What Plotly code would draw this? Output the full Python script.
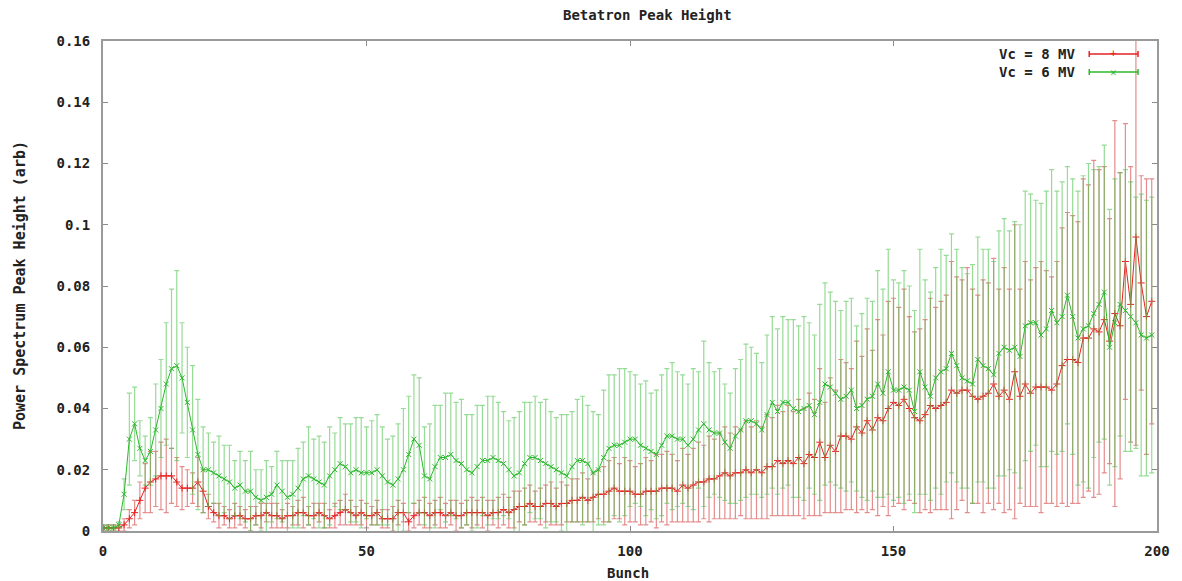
import plotly.graph_objects as go

bunch = list(range(200))

vc8_mean = [
    0.001, 0.001, 0.001, 0.001, 0.002, 0.004, 0.006, 0.010, 0.014, 0.016,
    0.017, 0.018, 0.018, 0.018, 0.016, 0.014, 0.014, 0.014, 0.016, 0.013,
    0.008, 0.006, 0.005, 0.005, 0.004, 0.005, 0.005, 0.004, 0.004, 0.005,
    0.005, 0.006, 0.005, 0.005, 0.004, 0.005, 0.005, 0.006, 0.006, 0.005,
    0.005, 0.006, 0.005, 0.004, 0.005, 0.006, 0.007, 0.006, 0.005, 0.006,
    0.005, 0.005, 0.006, 0.004, 0.004, 0.004, 0.006, 0.006, 0.003, 0.005,
    0.006, 0.006, 0.005, 0.006, 0.006, 0.005, 0.006, 0.005, 0.005, 0.006,
    0.006, 0.006, 0.006, 0.005, 0.006, 0.006, 0.007, 0.006, 0.007, 0.008,
    0.008, 0.009, 0.008, 0.008, 0.009, 0.009, 0.008, 0.009, 0.009, 0.010,
    0.010, 0.011, 0.010, 0.011, 0.012, 0.012, 0.013, 0.014, 0.013, 0.013,
    0.013, 0.012, 0.012, 0.013, 0.013, 0.013, 0.014, 0.014, 0.014, 0.013,
    0.015, 0.014, 0.015, 0.016, 0.016, 0.017, 0.017, 0.018, 0.019, 0.018,
    0.019, 0.019, 0.020, 0.019, 0.020, 0.019, 0.021, 0.021, 0.023, 0.022,
    0.023, 0.022, 0.024, 0.022, 0.025, 0.024, 0.029, 0.024, 0.028, 0.026,
    0.031, 0.031, 0.030, 0.034, 0.032, 0.036, 0.033, 0.037, 0.036, 0.040,
    0.042, 0.041, 0.043, 0.040, 0.037, 0.036, 0.038, 0.041, 0.040, 0.041,
    0.042, 0.046, 0.045, 0.046, 0.046, 0.044, 0.043, 0.044, 0.045, 0.048,
    0.044, 0.046, 0.043, 0.052, 0.044, 0.048, 0.045, 0.047, 0.047, 0.047,
    0.046, 0.048, 0.054, 0.056, 0.056, 0.055, 0.063, 0.063, 0.066, 0.065,
    0.069, 0.062, 0.071, 0.067, 0.088, 0.074, 0.096, 0.081, 0.070, 0.075,
]

vc8_err = [
    0.001, 0.001, 0.001, 0.001, 0.002, 0.003, 0.004, 0.006, 0.008, 0.010,
    0.009, 0.011, 0.012, 0.009, 0.008, 0.007, 0.006, 0.005, 0.008, 0.007,
    0.004, 0.003, 0.004, 0.003, 0.003, 0.004, 0.003, 0.003, 0.004, 0.003,
    0.004, 0.003, 0.004, 0.004, 0.003, 0.004, 0.003, 0.004, 0.005, 0.003,
    0.004, 0.003, 0.004, 0.003, 0.004, 0.004, 0.005, 0.004, 0.003, 0.004,
    0.004, 0.003, 0.004, 0.003, 0.003, 0.004, 0.004, 0.003, 0.003, 0.004,
    0.004, 0.005, 0.004, 0.004, 0.005, 0.004, 0.004, 0.005, 0.004, 0.004,
    0.005, 0.004, 0.005, 0.005, 0.004, 0.005, 0.005, 0.005, 0.006, 0.005,
    0.006, 0.006, 0.005, 0.006, 0.006, 0.007, 0.006, 0.007, 0.006, 0.007,
    0.007, 0.008, 0.007, 0.008, 0.008, 0.009, 0.010, 0.010, 0.009, 0.011,
    0.010, 0.009, 0.010, 0.011, 0.010, 0.012, 0.011, 0.012, 0.011, 0.010,
    0.012, 0.011, 0.012, 0.013, 0.012, 0.014, 0.013, 0.014, 0.015, 0.014,
    0.015, 0.014, 0.016, 0.015, 0.016, 0.015, 0.017, 0.016, 0.018, 0.017,
    0.018, 0.017, 0.019, 0.018, 0.020, 0.019, 0.024, 0.018, 0.022, 0.020,
    0.025, 0.024, 0.023, 0.028, 0.025, 0.030, 0.026, 0.032, 0.028, 0.035,
    0.034, 0.032, 0.036, 0.030, 0.028, 0.030, 0.031, 0.035, 0.033, 0.034,
    0.035, 0.042, 0.038, 0.036, 0.040, 0.035, 0.034, 0.038, 0.036, 0.041,
    0.035, 0.040, 0.036, 0.048, 0.035, 0.040, 0.037, 0.039, 0.041, 0.038,
    0.037, 0.040, 0.045, 0.048, 0.047, 0.046, 0.052, 0.050, 0.055, 0.053,
    0.050, 0.040, 0.063, 0.050, 0.045, 0.045, 0.068, 0.035, 0.045, 0.040,
]

vc6_mean = [
    0.001, 0.001, 0.001, 0.002, 0.012, 0.030, 0.035, 0.027, 0.023, 0.026,
    0.033, 0.040, 0.048, 0.053, 0.054, 0.050, 0.042, 0.033, 0.025, 0.020,
    0.020, 0.019, 0.018, 0.017, 0.016, 0.014, 0.015, 0.013, 0.013, 0.011,
    0.010, 0.011, 0.012, 0.015, 0.013, 0.011, 0.012, 0.014, 0.017, 0.018,
    0.017, 0.016, 0.015, 0.018, 0.020, 0.022, 0.021, 0.019, 0.020, 0.019,
    0.019, 0.019, 0.020, 0.018, 0.016, 0.015, 0.017, 0.020, 0.025, 0.030,
    0.028, 0.018, 0.017, 0.021, 0.024, 0.024, 0.025, 0.023, 0.022, 0.020,
    0.019, 0.021, 0.023, 0.023, 0.024, 0.023, 0.022, 0.020, 0.018, 0.019,
    0.022, 0.024, 0.024, 0.023, 0.022, 0.021, 0.020, 0.019, 0.018, 0.021,
    0.023, 0.023, 0.022, 0.019, 0.020, 0.024, 0.027, 0.028, 0.028, 0.029,
    0.030, 0.030, 0.028, 0.027, 0.026, 0.025, 0.028, 0.031, 0.031, 0.030,
    0.030, 0.028, 0.030, 0.033, 0.035, 0.033, 0.032, 0.032, 0.029, 0.027,
    0.031, 0.033, 0.036, 0.036, 0.035, 0.033, 0.038, 0.042, 0.039, 0.042,
    0.042, 0.040, 0.039, 0.040, 0.041, 0.038, 0.042, 0.048, 0.047, 0.045,
    0.043, 0.044, 0.046, 0.040, 0.041, 0.043, 0.044, 0.048, 0.045, 0.052,
    0.046, 0.046, 0.047, 0.046, 0.039, 0.052, 0.047, 0.044, 0.050, 0.052,
    0.053, 0.058, 0.054, 0.050, 0.049, 0.048, 0.056, 0.054, 0.053, 0.051,
    0.058, 0.060, 0.059, 0.060, 0.057, 0.067, 0.068, 0.068, 0.064, 0.066,
    0.072, 0.068, 0.070, 0.077, 0.070, 0.063, 0.066, 0.067, 0.071, 0.074,
    0.078, 0.060, 0.068, 0.074, 0.072, 0.070, 0.068, 0.064, 0.063, 0.064,
]

vc6_err = [
    0.001, 0.001, 0.001, 0.001, 0.005, 0.015, 0.012, 0.009, 0.008, 0.011,
    0.015, 0.016, 0.020, 0.026, 0.031, 0.018, 0.018, 0.021, 0.018, 0.014,
    0.012, 0.010, 0.013, 0.011, 0.012, 0.009, 0.011, 0.010, 0.013, 0.009,
    0.010, 0.012, 0.009, 0.011, 0.010, 0.012, 0.011, 0.013, 0.012, 0.016,
    0.013, 0.015, 0.014, 0.016, 0.012, 0.015, 0.014, 0.016, 0.017, 0.018,
    0.015, 0.017, 0.018, 0.016, 0.014, 0.016, 0.018, 0.020, 0.019, 0.021,
    0.022, 0.016, 0.018, 0.020, 0.017, 0.021, 0.020, 0.019, 0.021, 0.018,
    0.019, 0.020, 0.018, 0.021, 0.020, 0.019, 0.017, 0.016, 0.019, 0.020,
    0.020, 0.018, 0.020, 0.019, 0.021, 0.018, 0.017, 0.019, 0.020, 0.018,
    0.020, 0.021, 0.019, 0.020, 0.018, 0.022, 0.024, 0.023, 0.025, 0.024,
    0.022, 0.021, 0.020, 0.022, 0.019, 0.021, 0.023, 0.022, 0.024, 0.022,
    0.021, 0.020, 0.023, 0.019, 0.027, 0.022, 0.020, 0.021, 0.019, 0.018,
    0.022, 0.023, 0.025, 0.024, 0.023, 0.022, 0.026, 0.028, 0.027, 0.028,
    0.027, 0.029, 0.028, 0.030, 0.027, 0.026, 0.032, 0.033, 0.031, 0.030,
    0.029, 0.031, 0.030, 0.027, 0.030, 0.033, 0.031, 0.037, 0.034, 0.040,
    0.036, 0.035, 0.038, 0.034, 0.033, 0.040, 0.035, 0.034, 0.036, 0.040,
    0.037, 0.039, 0.038, 0.036, 0.035, 0.039, 0.040, 0.038, 0.039, 0.037,
    0.040, 0.042, 0.039, 0.041, 0.043, 0.044, 0.042, 0.040, 0.043, 0.045,
    0.046, 0.043, 0.044, 0.042, 0.045, 0.048, 0.050, 0.053, 0.047, 0.045,
    0.048, 0.045, 0.047, 0.043, 0.046, 0.044, 0.041, 0.046, 0.045, 0.045,
]

x_ticks = [0, 50, 100, 150, 200]
y_ticks = [0, 0.02, 0.04, 0.06, 0.08, 0.1, 0.12, 0.14, 0.16]
y_tick_text = ["0", "0.02", "0.04", "0.06", "0.08", "0.1", "0.12", "0.14", "0.16"]
series_names = ["Vc = 8 MV", "Vc = 6 MV"]

FONT = "DejaVu Sans Mono"
RED = "#e62222"
RED_ERR = "rgba(214,80,80,0.65)"
GREEN = "#2cb82c"
GREEN_ERR = "rgba(80,195,80,0.6)"

fig = go.Figure()
fig.add_trace(go.Scatter(
    x=bunch, y=vc8_mean, mode="lines+markers", name=series_names[0],
    line=dict(color=RED, width=1),
    marker=dict(symbol="cross-thin", size=5, color=RED, line=dict(color=RED, width=1)),
    error_y=dict(type="data", array=vc8_err, color=RED_ERR, thickness=1.2, width=2.5),
    showlegend=False,
))
fig.add_trace(go.Scatter(
    x=bunch, y=vc6_mean, mode="lines+markers", name=series_names[1],
    line=dict(color=GREEN, width=1),
    marker=dict(symbol="x-thin", size=5, color=GREEN, line=dict(color=GREEN, width=1)),
    error_y=dict(type="data", array=vc6_err, color=GREEN_ERR, thickness=1.2, width=2.5),
    showlegend=False,
))

axis_common = dict(
    showline=True, linecolor="#9a9a9a", linewidth=2, mirror="ticks",
    ticks="inside", ticklen=5, tickcolor="#8a8a8a", tickwidth=1,
    showgrid=False, zeroline=False,
    tickfont=dict(family=FONT, size=14, color="#222222", weight="bold"),
)

fig.update_xaxes(range=[0, 200], tickvals=x_ticks, ticklabelstandoff=6, **axis_common)
fig.update_yaxes(range=[0, 0.16], tickvals=y_ticks, ticktext=y_tick_text,
                 ticklabelstandoff=8, **axis_common)

annotations = [
    dict(text="Betatron Peak Height", x=0.517, y=1.0, xref="paper", yref="paper",
         yshift=26, showarrow=False, xanchor="center", yanchor="middle",
         font=dict(family=FONT, size=14, color="#222222", weight="bold")),
    dict(text="Bunch", x=0.498, y=0, xref="paper", yref="paper", yshift=-42,
         showarrow=False, xanchor="center", yanchor="middle",
         font=dict(family=FONT, size=14, color="#222222", weight="bold")),
    dict(text="Power Spectrum Peak Height (arb)", x=0, y=0.5, xref="paper", yref="paper",
         xshift=-83, showarrow=False, textangle=-90, xanchor="center", yanchor="middle",
         font=dict(family=FONT, size=15, color="#222222", weight="bold")),
]

shapes = []
legend_rows = [(series_names[0], RED, "+", 0.9735), (series_names[1], GREEN, "×", 0.9367)]
x_text_end = 0.9243
x0, x1 = 0.9357, 0.982
for name, col, sym, yy in legend_rows:
    annotations.append(dict(text=name, x=x_text_end, y=yy, xref="paper", yref="paper",
                            showarrow=False, xanchor="right", yanchor="middle",
                            font=dict(family=FONT, size=14, color="#222222", weight="bold")))
    annotations.append(dict(text=sym, x=(x0 + x1) / 2, y=yy, xref="paper", yref="paper",
                            showarrow=False, xanchor="center", yanchor="middle",
                            font=dict(family=FONT, size=11, color=col)))
    shapes.append(dict(type="line", xref="paper", yref="paper", x0=x0, x1=x1, y0=yy, y1=yy,
                       line=dict(color=col, width=1.5)))
    for xc in (x0, x1):
        shapes.append(dict(type="line", xref="paper", yref="paper", x0=xc, x1=xc,
                           y0=yy - 0.006, y1=yy + 0.006, line=dict(color=col, width=1.5)))

fig.update_layout(
    width=1182, height=581,
    margin=dict(l=103, r=22, t=41, b=50),
    paper_bgcolor="white", plot_bgcolor="white",
    annotations=annotations, shapes=shapes,
    showlegend=False,
)

fig.write_html("out.html")
